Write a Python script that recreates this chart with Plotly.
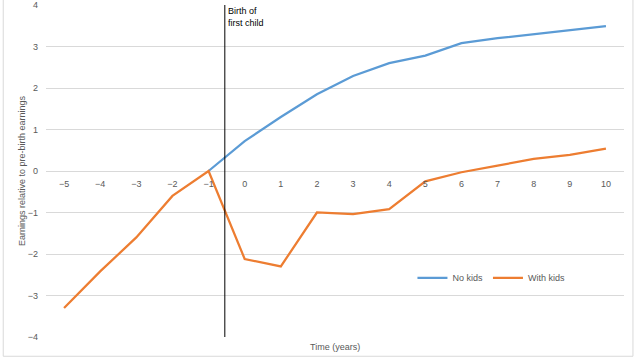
import plotly.graph_objects as go

years = [-5, -4, -3, -2, -1, 0, 1, 2, 3, 4, 5, 6, 7, 8, 9, 10]
no_kids = [None, None, None, None, 0.0, 0.72, 1.3, 1.85, 2.29, 2.6, 2.78, 3.08, 3.2, 3.3, 3.39, 3.49]
with_kids = [-3.3, -2.42, -1.6, -0.6, 0.0, -2.12, -2.3, -1.0, -1.04, -0.92, -0.25, -0.03, 0.13, 0.29, 0.39, 0.54]
birth_x = -0.55
y_ticks = [-4, -3, -2, -1, 0, 1, 2, 3, 4]

FONT = "Liberation Sans, Arial, sans-serif"
GRAY = "#595959"

fig = go.Figure()
fig.add_trace(go.Scatter(x=years, y=no_kids, mode="lines", name="No kids",
                         line=dict(color="#5B9BD5", width=2.25)))
fig.add_trace(go.Scatter(x=years, y=with_kids, mode="lines", name="With kids",
                         line=dict(color="#ED7D31", width=2.25)))

fig.add_shape(type="line", x0=birth_x, x1=birth_x, y0=-4, y1=4,
              xref="x", yref="y", line=dict(color="black", width=1))
fig.add_annotation(x=birth_x, y=4, xref="x", yref="y", xanchor="left", yanchor="top",
                   text="Birth of<br>first child", showarrow=False, align="left",
                   xshift=1, yshift=1,
                   font=dict(family=FONT, size=9, color="black"))
fig.add_annotation(x=0.5, y=0, xref="paper", yref="paper", yanchor="middle",
                   xanchor="center", text="Time (years)", showarrow=False,
                   yshift=-10, font=dict(family=FONT, size=9, color=GRAY))
fig.add_shape(type="rect", xref="paper", yref="paper",
              x0=-0.074, x1=1.0155, y0=-0.058, y1=1.1,
              line=dict(color="#d9d9d9", width=1), layer="below")

fig.update_layout(
    width=635, height=357,
    margin=dict(l=46, r=11, t=5, b=20),
    paper_bgcolor="white", plot_bgcolor="white",
    font=dict(family=FONT, size=9, color=GRAY),
    showlegend=True,
    legend=dict(orientation="h", x=0.634, y=0.178, xanchor="left", yanchor="middle",
                bgcolor="rgba(0,0,0,0)", font=dict(size=9, color=GRAY),
                itemwidth=30, tracegroupgap=0),
    xaxis=dict(range=[-5.5, 10.5], tickmode="array", tickvals=years,
               showgrid=False, zeroline=False, showline=False, ticks="",
               anchor="free", position=0.5, ticklabelstandoff=6, automargin=False,
               tickfont=dict(size=9, color=GRAY)),
    yaxis=dict(range=[-4, 4], tickmode="array", tickvals=y_ticks,
               showgrid=True, gridcolor="#d9d9d9", gridwidth=1,
               zeroline=True, zerolinecolor="#d9d9d9", zerolinewidth=1,
               showline=False, ticks="", ticklabelstandoff=7, automargin=False,
               tickfont=dict(size=9, color=GRAY),
               title=dict(text="Earnings relative to pre-birth earnings",
                          font=dict(size=9, color=GRAY), standoff=0)),
)

fig.write_html("out.html", config={"displayModeBar": False},
               post_script="document.body.style.margin='0';document.body.style.overflow='hidden';")
